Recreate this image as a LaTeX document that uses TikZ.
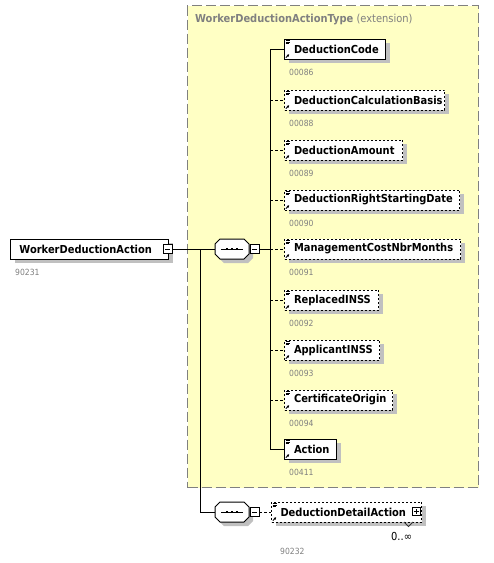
\documentclass[tikz,border=0pt]{standalone}
\usepackage{fontspec}
\setmainfont{DejaVu Sans Condensed}
\usetikzlibrary{shadows,calc,arrows.meta}
\definecolor{ylw}{RGB}{255,255,196}
\definecolor{bordgray}{RGB}{128,128,128}
\definecolor{shd}{RGB}{192,192,192}
\definecolor{lblgray}{RGB}{128,128,128}
\tikzset{
  elembox/.style={draw=black, fill=white, line width=1pt, minimum height=20pt,
    inner xsep=0pt, inner ysep=0pt, align=left,
    font=\fontsize{11}{13}\selectfont\bfseries,
    general shadow={fill=shd, draw=none, shadow xshift=4pt, shadow yshift=-4pt}},
  optbox/.style={dash pattern=on 2pt off 2pt},
  reqbox/.style={},
  numlbl/.style={font=\fontsize{8.5}{10}\selectfont, text=lblgray, inner sep=0pt},
  conn/.style={line width=1pt},
  optconn/.style={conn, dash pattern=on 3pt off 2pt},
  pmbox/.style={draw=black, fill=white, line width=0.8pt, minimum size=9pt, inner sep=0pt},
  extbox/.style={draw=bordgray, fill=ylw, line width=1pt, dash pattern=on 10pt off 4pt,
    inner sep=0pt, anchor=north west},
}
\newcommand{\xicon}[1]{%
  \draw[line width=0.6pt] ($(#1.north west)+(1.5,1.8)$) -- ++(4,0)
    ($(#1.north west)+(1.5,3.3)$) -- ++(4,0)
    ($(#1.north west)+(1.5,4.8)$) -- ++(3,0);
  \draw[line width=0.8pt,-{Latex[length=2.6pt,width=2.8pt]}] ($(#1.south west)+(1.8,-1.8)$) -- ++(3.6,-3.6);
}
\newcommand{\xelem}[6]{%
  \node[elembox,#6,minimum width=#3pt,text width=#3pt,anchor=west] (#1) at (284,#2) {\hspace*{9.5pt}\mbox{#4}};
  \node[numlbl,anchor=west] (#1n) at (289,{#2+23}) {#5};
  \xicon{#1}}
\newcommand{\xoct}{++(-17,-5) -- ++(5,-5) -- ++(24,0) -- ++(5,5) -- ++(0,10) -- ++(-5,5) -- ++(-24,0) -- ++(-5,-5) -- cycle}
\newcommand{\xseq}[3]{%
  \node[minimum width=34pt,minimum height=20pt,inner sep=0pt] (#1) at (#2,#3) {};
  \fill[shd] ($(#1)+(4,4)$) \xoct;
  \filldraw[fill=white,draw=black,line width=1pt] (#1.center) \xoct;
  \draw[line width=1pt] ($(#1)+(-11,0)$) -- ($(#1)+(11,0)$);
  \fill ($(#1)+(-6.2,-1.3)$) rectangle ++(2.6,2.6);
  \fill ($(#1)+(-1.3,-1.3)$) rectangle ++(2.6,2.6);
  \fill ($(#1)+(3.6,-1.3)$) rectangle ++(2.6,2.6);
  \node[pmbox] (#1m) at ($(#1)+(22.5,0)$) {};
  \draw[line width=0.8pt] ($(#1m)+(-2.5,0)$) -- ($(#1m)+(2.5,0)$);
}
\begin{document}
\begin{tikzpicture}[x=1pt,y=-1pt]
\useasboundingbox[fill=white] (0,0) rectangle (494,563);
% extension container
\node[extbox,minimum width=291pt,minimum height=482pt] (ext) at (187,5) {};
\node[anchor=west,text=bordgray,font=\fontsize{11}{13}\selectfont,inner sep=0pt] (title) at (195,20)
  {\textbf{WorkerDeductionActionType} (extension)};
% root element
\node[elembox,minimum width=158pt,text width=158pt,anchor=west] (wda) at (10,249)
  {\hspace*{9pt}\mbox{WorkerDeductionAction}};
\node[numlbl,anchor=west] (wdan) at (15,272) {90231};
\node[pmbox] (wdam) at (167.5,249) {};
\draw[line width=0.8pt] ($(wdam)+(-2.5,0)$) -- ($(wdam)+(2.5,0)$);
% sequences
\xseq{s1}{232}{249}
\xseq{s2}{232}{512}
% child elements
\xelem{e1}{49}{101}{DeductionCode}{00086}{reqbox}
\xelem{e2}{100}{160}{DeductionCalculationBasis}{00088}{optbox}
\xelem{e3}{150}{118}{DeductionAmount}{00089}{optbox}
\xelem{e4}{200}{175}{DeductionRightStartingDate}{00090}{optbox}
\xelem{e5}{249}{176}{ManagementCostNbrMonths}{00091}{optbox}
\xelem{e6}{300}{94}{ReplacedINSS}{00092}{optbox}
\xelem{e7}{350}{95}{ApplicantINSS}{00093}{optbox}
\xelem{e8}{400}{108}{CertificateOrigin}{00094}{optbox}
\xelem{e9}{449}{52}{Action}{00411}{reqbox}
% detail element
\node[elembox,optbox,minimum width=150pt,text width=150pt,anchor=west] (dda) at (271,512)
  {\hspace*{9pt}\mbox{DeductionDetailAction}};
\xicon{dda}
\node[pmbox,minimum size=8pt] (ddap) at (416.5,511.5) {};
\draw[line width=0.8pt] ($(ddap)+(-2.5,0)$) -- ($(ddap)+(2.5,0)$) ($(ddap)+(0,-2.5)$) -- ($(ddap)+(0,2.5)$);
\draw[line width=0.8pt,black!80] (404,522) -- (408.5,526.5) -- (413,522);
\node[anchor=west,inner sep=0pt,font=\fontsize{11}{13}\selectfont] (mult) at (391,536) {0..∞};
\node[numlbl,anchor=west] (s2n) at (280,551) {90232};
% connectors
\coordinate (busA) at (200,249);
\coordinate (busB) at (270,249);
\draw[conn] (wdam.east) -- (s1.west);
\draw[conn] (busA) -- (busA |- s2.west) -- (s2.west);
\draw[conn] (s1m.east) -- (busB);
\draw[conn] (busB |- e1.west) -- (busB |- e9.west);
\draw[conn] (busB |- e1.west) -- (e1.west);
\draw[conn] (busB |- e9.west) -- (e9.west);
\foreach \k in {2,...,8} {\draw[optconn] (busB |- e\k.west) -- (e\k.west);}
\draw[optconn] (s2m.east) -- (dda.west);
\end{tikzpicture}
\end{document}
